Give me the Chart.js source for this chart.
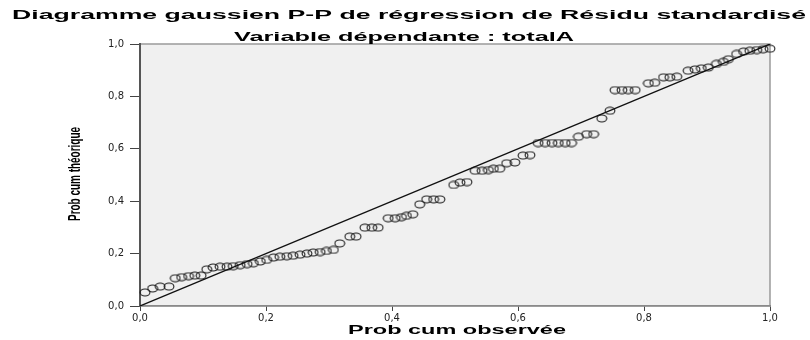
<!DOCTYPE html>
<html>
<head>
<meta charset="utf-8">
<title>Diagramme gaussien P-P</title>
<script src="https://cdn.jsdelivr.net/npm/chart.js@4"></script>
<style>
  html, body { margin: 0; padding: 0; background: #ffffff; }
  #wrap { width: 810px; height: 340px; position: relative; }
</style>
</head>
<body>
<div id="wrap"><canvas id="ppChart" width="810" height="340"></canvas></div>
<script>
// Texts
const TITLE_LINE_1 = 'Diagramme gaussien P-P de régression de Résidu standardisé';
const TITLE_LINE_2 = 'Variable dépendante : totalA';
const X_TITLE = 'Prob cum observée';
const Y_TITLE = 'Prob cum théorique';

// Axis ticks
const TICK_VALUES = [0, 0.2, 0.4, 0.6, 0.8, 1.0];

const probObserved = [
  0.008, 0.020, 0.032, 0.046, 0.056, 0.066, 0.077, 0.087, 0.097, 0.106,
  0.116, 0.127, 0.138, 0.148, 0.159, 0.170, 0.180, 0.191, 0.201, 0.212,
  0.222, 0.233, 0.243, 0.254, 0.265, 0.275, 0.286, 0.296, 0.307, 0.317,
  0.333, 0.343, 0.357, 0.368, 0.378, 0.394, 0.405, 0.415, 0.423, 0.433,
  0.444, 0.455, 0.466, 0.476, 0.498, 0.508, 0.519, 0.532, 0.543, 0.553,
  0.561, 0.571, 0.582, 0.595, 0.608, 0.619, 0.632, 0.643, 0.654, 0.664,
  0.675, 0.685, 0.696, 0.709, 0.720, 0.733, 0.746, 0.754, 0.765, 0.775,
  0.786, 0.807, 0.817, 0.831, 0.841, 0.852, 0.870, 0.881, 0.891, 0.902,
  0.915, 0.926, 0.934, 0.947, 0.958, 0.968, 0.979, 0.989, 1.000
];

// Theoretical cumulative probability (y)
const probTheoretical = [
  0.052, 0.067, 0.074, 0.074, 0.106, 0.110, 0.114, 0.116, 0.116, 0.140,
  0.147, 0.150, 0.150, 0.152, 0.156, 0.160, 0.163, 0.170, 0.176, 0.185,
  0.188, 0.190, 0.192, 0.196, 0.200, 0.204, 0.206, 0.210, 0.214, 0.239,
  0.265, 0.265, 0.299, 0.299, 0.299, 0.335, 0.335, 0.339, 0.344, 0.350,
  0.388, 0.407, 0.407, 0.407, 0.462, 0.471, 0.473, 0.516, 0.516, 0.519,
  0.524, 0.524, 0.545, 0.548, 0.574, 0.576, 0.622, 0.622, 0.622, 0.622,
  0.622, 0.622, 0.646, 0.656, 0.656, 0.716, 0.745, 0.824, 0.824, 0.824,
  0.824, 0.850, 0.852, 0.873, 0.873, 0.875, 0.898, 0.903, 0.907, 0.910,
  0.924, 0.932, 0.942, 0.962, 0.971, 0.974, 0.977, 0.980, 0.982
];

// Reference diagonal
const diagX = [0, 1];
const diagY = [0, 1];

const points = probObserved.map((x, i) => ({ x: x, y: probTheoretical[i] }));
const diagonal = diagX.map((x, i) => ({ x: x, y: diagY[i] }));

// Hollow, slightly flattened circle marker
function makeMarker() {
  const c = document.createElement('canvas');
  c.width = 12;
  c.height = 9;
  const g = c.getContext('2d');
  g.strokeStyle = '#1e1e1e';
  g.lineWidth = 1.1;
  g.beginPath();
  g.ellipse(6, 4.5, 4.9, 3.5, 0, 0, Math.PI * 2);
  g.stroke();
  return c;
}

// Draws a line of text stretched to a given width (the source image is wide)
function drawStretched(ctx, text, font, left, baseline, width) {
  ctx.save();
  ctx.font = font;
  ctx.fillStyle = '#000';
  ctx.textAlign = 'left';
  ctx.textBaseline = 'alphabetic';
  const w = ctx.measureText(text).width;
  ctx.translate(left, baseline);
  ctx.scale(width / w, 1);
  ctx.fillText(text, 0, 0);
  ctx.restore();
}

const plotBackground = {
  id: 'plotBackground',
  beforeDraw(chart) {
    const { ctx, chartArea: a } = chart;
    ctx.save();
    ctx.fillStyle = '#f0f0f0';
    ctx.fillRect(a.left, a.top, a.right - a.left, a.bottom - a.top);
    ctx.strokeStyle = '#9a9a9a';
    ctx.lineWidth = 1.5;
    ctx.strokeRect(a.left, a.top, a.right - a.left, a.bottom - a.top);
    ctx.restore();
  }
};

const titles = {
  id: 'titles',
  afterDraw(chart) {
    const ctx = chart.ctx;
    drawStretched(ctx, TITLE_LINE_1, 'bold 13px "Liberation Sans"', 12, 19, 794);
    drawStretched(ctx, TITLE_LINE_2, 'bold 13px "Liberation Sans"', 234, 41, 340);
    drawStretched(ctx, X_TITLE, 'bold 13px "Liberation Sans"', 348, 334, 218);

    // Rotated, compressed y title
    ctx.save();
    ctx.font = 'bold 16px "Liberation Sans"';
    ctx.fillStyle = '#000';
    ctx.textAlign = 'center';
    ctx.textBaseline = 'alphabetic';
    const w = ctx.measureText(Y_TITLE).width;
    ctx.translate(80, 174);
    ctx.rotate(-Math.PI / 2);
    ctx.scale(94 / w, 1);
    ctx.fillText(Y_TITLE, 0, 0);
    ctx.restore();
  }
};

const fmt = v => v.toFixed(1).replace('.', ',');

new Chart(document.getElementById('ppChart'), {
  type: 'scatter',
  data: {
    datasets: [
      {
        type: 'line',
        label: 'diagonale',
        data: diagonal,
        borderColor: '#111',
        borderWidth: 1.3,
        pointRadius: 0,
        fill: false,
        order: 1
      },
      {
        label: 'Résidu',
        data: points,
        pointStyle: makeMarker(),
        pointRadius: 5,
        pointHoverRadius: 5,
        clip: 8,
        order: 2
      }
    ]
  },
  options: {
    responsive: false,
    animation: false,
    devicePixelRatio: 1,
    layout: { padding: { top: 44, right: 40, left: 0, bottom: 0 } },
    plugins: {
      legend: { display: false },
      title: { display: false },
      tooltip: { enabled: false }
    },
    scales: {
      x: {
        type: 'linear',
        min: 0,
        max: 1,
        afterBuildTicks: s => { s.ticks = TICK_VALUES.map(v => ({ value: v })); },
        afterFit: s => { s.height = 34; },
        ticks: {
          callback: fmt,
          font: { family: '"DejaVu Sans"', size: 10 },
          color: '#222',
          padding: 1,
          maxRotation: 0
        },
        grid: { drawOnChartArea: false, drawTicks: true, tickLength: 5, color: '#444' },
        border: { color: '#8a8a8a', width: 1.5 }
      },
      y: {
        type: 'linear',
        min: 0,
        max: 1,
        afterBuildTicks: s => { s.ticks = TICK_VALUES.map(v => ({ value: v })); },
        afterFit: s => { s.width = 140; },
        ticks: {
          callback: fmt,
          font: { family: '"DejaVu Sans"', size: 10 },
          color: '#222',
          padding: 6
        },
        grid: { drawOnChartArea: false, drawTicks: true, tickLength: 10, color: '#444' },
        border: { color: '#555', width: 2 }
      }
    }
  },
  plugins: [plotBackground, titles]
});
</script>
</body>
</html>
